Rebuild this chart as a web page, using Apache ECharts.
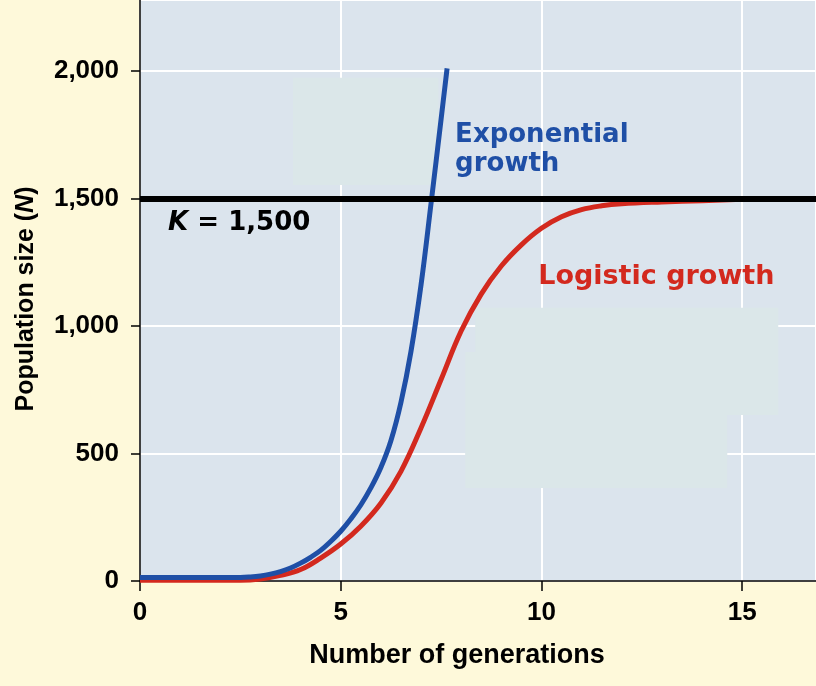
<!DOCTYPE html>
<html><head><meta charset="utf-8">
<script src="https://cdn.jsdelivr.net/npm/echarts@6/dist/echarts.min.js"></script>
<style>html,body{margin:0;padding:0;background:#fef9da}#c{width:816px;height:686px}</style>
</head><body><div id="c"></div><script>
// ---- data ----
const expGenerations = [0, 0.25, 0.5, 0.75, 1, 1.25, 1.5, 1.75, 2, 2.25, 2.5, 2.75, 3, 3.25, 3.5, 3.75, 4, 4.25, 4.5, 4.75, 5, 5.25, 5.5, 5.75, 6, 6.25, 6.5, 6.75, 7, 7.25, 7.5, 7.65];
const expPopulation  = [14, 14, 14, 14, 14, 14, 14, 14, 14, 14, 14, 16, 20, 27, 37, 51, 70, 93, 120, 155, 195, 243, 298, 365, 445, 550, 700, 900, 1160, 1480, 1810, 2010];
const logGenerations = [0, 0.5, 1, 1.5, 2, 2.5, 3, 3.5, 4, 4.5, 5, 5.5, 6, 6.5, 7, 7.5, 8, 8.5, 9, 9.5, 10, 10.5, 11, 11.5, 12, 13, 14, 15];
const logPopulation  = [3, 3, 3, 3, 3, 3, 8, 22, 45, 90, 145, 215, 305, 430, 600, 790, 980, 1125, 1235, 1318, 1383, 1428, 1456, 1471, 1479, 1486, 1491, 1497];
const K = 1500;
const xTickStep = 5;
const yTickStep = 500;
const xTitle = 'Number of generations';
const yTitle = ['Population size (', 'N', ')'];
const expLabel = 'Exponential\ngrowth';
const logLabel = 'Logistic growth';
const kLabel = ['K', ' = 1,500'];

// ---- layout / style ----
const X_MAX = 16.84, Y_MAX = 2278;
const BLUE = '#1f4fa6', RED = '#d3291e';
const maskBoxes = [ // pale masked regions in the reference (data units)
  [[3.81, 1973], [7.43, 1553]],
  [[8.35, 1071], [15.9, 651]],
  [[8.10, 898], [14.63, 365]]
];
const tickFont = {color: '#000', fontFamily: '"Liberation Sans", Arial, sans-serif', fontWeight: 'bold', fontSize: 26};

const chart = echarts.init(document.getElementById('c'));
const zip = (a, b) => a.map((v, i) => [v, b[i]]);

chart.setOption({
  animation: false,
  backgroundColor: '#fef9da',
  grid: {left: 140, right: 0, top: 0, bottom: 105, show: true, backgroundColor: '#dbe4ed', borderWidth: 0},
  xAxis: {
    type: 'value', min: 0, max: X_MAX, interval: xTickStep,
    axisLine: {show: true, onZero: false, lineStyle: {color: '#000', width: 1.5}},
    axisTick: {show: true, length: 10, lineStyle: {color: '#000', width: 1.5}},
    axisLabel: Object.assign({margin: 19, showMaxLabel: false}, tickFont),
    splitLine: {show: true, lineStyle: {color: '#fff', width: 2}},
    name: xTitle, nameLocation: 'middle', nameGap: 61,
    nameTextStyle: {color: '#000', fontFamily: '"Liberation Sans", Arial, sans-serif', fontWeight: 'bold', fontSize: 27, padding: [0, 42, 0, 0]}
  },
  yAxis: {
    type: 'value', min: 0, max: Y_MAX, interval: yTickStep,
    axisLine: {show: true, onZero: false, lineStyle: {color: '#000', width: 1.5}},
    axisTick: {show: true, length: 9, lineStyle: {color: '#000', width: 1.5}},
    axisLabel: Object.assign({margin: 21, showMaxLabel: false, formatter: v => v.toLocaleString('en-US')}, tickFont),
    splitLine: {show: true, lineStyle: {color: '#fff', width: 2}},
    name: '{a|' + yTitle[0] + '}{i|' + yTitle[1] + '}{a|' + yTitle[2] + '}',
    nameLocation: 'middle', nameGap: 101, nameRotate: 90,
    nameTextStyle: {
      padding: [0, 17, 0, 0],
      rich: {
        a: {color: '#000', fontFamily: '"Liberation Sans", Arial, sans-serif', fontWeight: 'bold', fontSize: 25},
        i: {color: '#000', fontFamily: '"Liberation Sans", Arial, sans-serif', fontWeight: 'bold', fontStyle: 'italic', fontSize: 25}
      }
    }
  },
  series: [
    {
      type: 'line', data: [], silent: true,
      markArea: {silent: true, itemStyle: {color: '#dbe7e9'}, label: {show: false},
        data: maskBoxes.map(b => [{coord: b[0]}, {coord: b[1]}])},
      markLine: {silent: true, symbol: 'none', label: {show: false},
        lineStyle: {color: '#000', width: 6, type: 'solid'}, data: [{yAxis: K}]}
    },
    {
      name: 'Logistic growth', type: 'line', data: zip(logGenerations, logPopulation),
      showSymbol: false, smooth: 0.4,
      lineStyle: {color: RED, width: 5}
    },
    {
      name: 'Exponential growth', type: 'line', data: zip(expGenerations, expPopulation),
      showSymbol: false, smooth: 0.4,
      lineStyle: {color: BLUE, width: 5}
    }
  ]
});

const annFont = '"DejaVu Sans", Verdana, sans-serif';
const p = (t, n) => chart.convertToPixel({gridIndex: 0}, [t, n]);
const pe = p(7.85, 1690), pl = p(9.92, 1192), pk = p(0.70, 1401);
chart.setOption({
  graphic: [
    {type: 'text', x: pe[0], y: pe[1], z: 10, style: {text: expLabel, fill: BLUE, font: 'bold 26px ' + annFont, lineHeight: 29, align: 'left', verticalAlign: 'middle'}},
    {type: 'text', x: pl[0], y: pl[1], z: 10, style: {text: logLabel, fill: RED, font: 'bold 27px ' + annFont, align: 'left', verticalAlign: 'middle'}},
    {type: 'text', x: pk[0], y: pk[1], z: 10, style: {
      text: '{k|' + kLabel[0] + '}{r|' + kLabel[1] + '}', align: 'left', verticalAlign: 'middle',
      rich: {
        k: {fill: '#000', fontFamily: annFont, fontWeight: 'bold', fontStyle: 'italic', fontSize: 26},
        r: {fill: '#000', fontFamily: annFont, fontWeight: 'bold', fontSize: 26}
      }}}
  ]
});
</script></body></html>
